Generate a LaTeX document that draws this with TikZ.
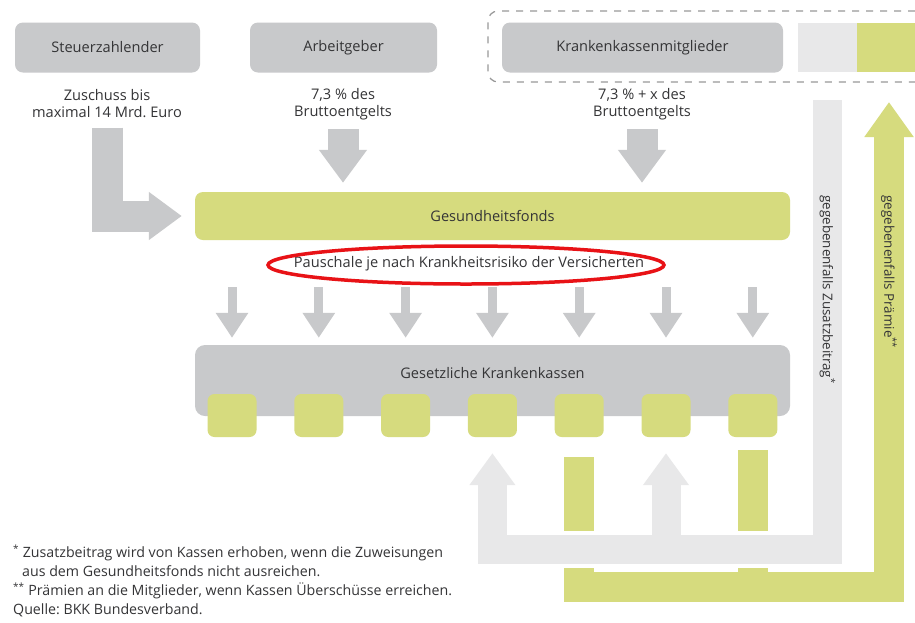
\documentclass[tikz,border=0pt]{standalone}
\usepackage{fontspec}
\setmainfont{Open Sans}
\frenchspacing
\usetikzlibrary{positioning,arrows.meta}
\definecolor{boxgray}{RGB}{200,201,203}
\definecolor{fondsgreen}{RGB}{214,219,126}
\definecolor{palegray}{RGB}{232,232,233}
\definecolor{textgray}{RGB}{52,52,54}
\definecolor{ringred}{RGB}{232,18,22}

\begin{document}
\begin{tikzpicture}[x=1pt, y=-1pt, text=textgray,
  font=\fontsize{14.6}{17}\selectfont,
  graybox/.style={rectangle, rounded corners=8pt, fill=boxgray, inner sep=0pt, minimum height=50pt},
  greenbox/.style={rectangle, rounded corners=8pt, fill=fondsgreen, inner sep=0pt, minimum height=48pt},
  kasse/.style={rectangle, rounded corners=7pt, fill=fondsgreen, inner sep=0pt, minimum width=49pt, minimum height=43pt},
  bigarrow/.style={draw=boxgray, line width=31pt, line join=miter, -{Triangle[width=46pt,length=33pt]}},
  smallarrow/.style={draw=boxgray, line width=9pt, -{Triangle[width=31pt,length=25pt]}},
  grayflow/.style={draw=palegray, line width=29pt, line join=miter},
  greenflow/.style={draw=fondsgreen, line width=30pt, line join=miter},
  sidetext/.style={rotate=-90, anchor=west, font=\fontsize{13.4}{15}\selectfont},
  groupline/.style={draw=gray!80, line width=1.2pt, dash pattern=on 7pt off 7pt, rounded corners=10pt}]
\fill[white] (0,0) rectangle (915,622);
\useasboundingbox (0,0) rectangle (915,622);

% Nodes
\node[graybox, minimum width=185pt] (steuer) at (107.5,47.5) {Steuerzahlender};
\node[graybox, minimum width=187pt] (arbeit) at (343.5,47.5) {Arbeitgeber};
\node[graybox, minimum width=281pt] (mitglied) at (642.5,47.5) {Krankenkassenmitglieder};
\node[rectangle, fill=palegray, inner sep=0pt, minimum width=59pt, minimum height=49pt] (zusatz) at (827.5,47.5) {};
\node[rectangle, fill=fondsgreen, inner sep=0pt, minimum width=58pt, minimum height=49pt] (praemie) at (886,47.5) {};
\draw[groupline] (915,11) -- (488,11) -- (488,82) -- (915,82);

\node[align=center] (zuschuss) at (107,104) {Zuschuss bis\\maximal 14 Mrd. Euro};
\node[align=center] (arbeit-lbl) at (343,104) {7,3 \% des\\Bruttoentgelts};
\node[align=center] (mitglied-lbl) at (642,104) {7,3 \% + x des\\Bruttoentgelts};

\node[greenbox, minimum width=595pt] (fonds) at (492.5,216) {Gesundheitsfonds};
\node (pauschale) at (469,264) {Pauschale je nach Krankheitsrisiko der Versicherten};
\draw[ringred, line width=3.5pt] (466,265) ellipse [x radius=198, y radius=19];

\node[rectangle, rounded corners=10pt, fill=boxgray, inner sep=0pt, minimum width=595pt, minimum height=71pt] (kassen) at (492.5,380.5) {};
\node (kassen-lbl) at ([yshift=-28pt]kassen.north) {Gesetzliche Krankenkassen};
\foreach \i in {1,...,7}
  \node[kasse] (k\i) at ({232+86.8*(\i-1)},415.5) {};

% Arrows
\draw[bigarrow, shorten <=6pt, shorten >=13pt] (zuschuss.south) |- (fonds.west);
\draw[bigarrow, shorten <=6pt, shorten >=9pt] (arbeit-lbl.south) -- (arbeit-lbl.south |- fonds.north);
\draw[bigarrow, shorten <=6pt, shorten >=9pt] (mitglied-lbl.south) -- (mitglied-lbl.south |- fonds.north);
\foreach \i in {1,...,7} {
  \coordinate (in\i) at (k\i |- 0,287);
  \draw[smallarrow, shorten >=7pt] (in\i) -- (k\i |- kassen.north);
}

% Rueckfluesse
\coordinate (gband) at (0,586.5);
\coordinate (zband) at (0,549.5);
\coordinate (praemie-top) at (889,102);
\coordinate (zusatz-top) at (827.5,100);
\draw[greenflow, shorten <=20pt, -{Triangle[width=47pt,length=35pt]}] (k5.south) |- (gband -| praemie-top) -- (praemie-top);
\draw[greenflow, shorten <=13pt] (k7.south) -- (k7.south |- gband);
\draw[white, line width=37pt] (zband -| k4) -- (zband -| zusatz-top);
\draw[grayflow, shorten >=16pt, -{Triangle[width=44pt,length=32pt]}] (zusatz-top) |- (zband -| k4) -- (k4.south);
\draw[grayflow, shorten >=16pt, -{Triangle[width=44pt,length=32pt]}] (zband -| k6) -- (k6.south);
\node[sidetext] (zusatz-lbl) at (827.5,192) {gegebenenfalls Zusatzbeitrag\textsuperscript{*}};
\node[sidetext] (praemie-lbl) at (889,192) {gegebenenfalls Prämie\textsuperscript{**}};

% Fussnoten
\node[anchor=north west, align=left, inner sep=0pt, font=\fontsize{14.2}{18.7}\selectfont] (notes) at (13,545)
  {\textsuperscript{*} Zusatzbeitrag wird von Kassen erhoben, wenn die Zuweisungen\\
   \hspace*{9pt}aus dem Gesundheitsfonds nicht ausreichen.\\
   \textsuperscript{**} Prämien an die Mitglieder, wenn Kassen Überschüsse erreichen.\\
   Quelle: BKK Bundesverband.};
\end{tikzpicture}
\end{document}
